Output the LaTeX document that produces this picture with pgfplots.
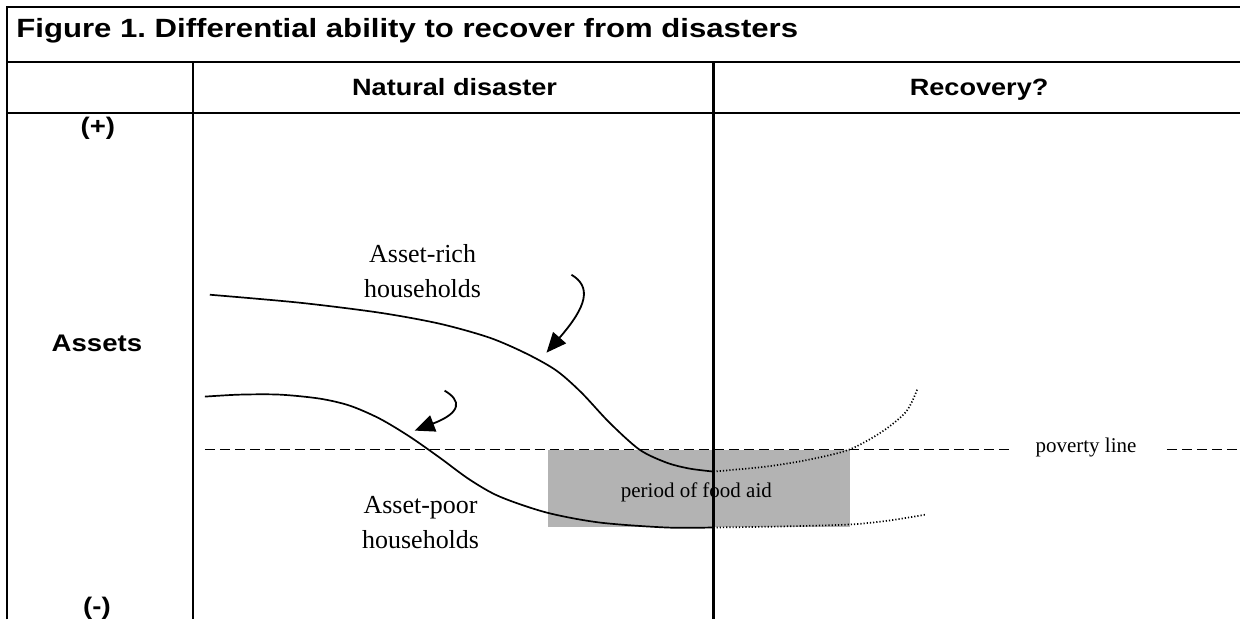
\documentclass[border=0pt]{standalone}
\usepackage{fontspec}
\setmainfont{Liberation Serif}
\setsansfont{Liberation Sans}
\newfontfamily\hdr[FakeStretch=1.15]{Liberation Sans}
\newfontfamily\ttl[FakeStretch=1.18]{Liberation Sans}
\usepackage{pgfplots}
\pgfplotsset{compat=1.18}
\usetikzlibrary{arrows.meta}
\definecolor{boxgray}{RGB}{179,179,179}
\frenchspacing
\begin{document}
\begin{tikzpicture}
\begin{axis}[
  scale only axis, width=620.5pt, height=310pt,
  xmin=0, xmax=1241, ymin=0, ymax=620, y dir=reverse,
  hide axis, clip=false,
]
\path (axis cs:0,0) rectangle (axis cs:1241,620);
% table frame
\draw[line width=1.15pt] (axis cs:7,620) -- (axis cs:7,7) -- (axis cs:1241,7);
\draw[line width=1.15pt] (axis cs:7,62) -- (axis cs:1241,62);
\draw[line width=1.15pt] (axis cs:7,113) -- (axis cs:1241,113);
\draw[line width=1.15pt] (axis cs:193,62) -- (axis cs:193,620);
% food aid box
\addplot[fill=boxgray, draw=none] coordinates {(548,450) (851,450) (851,527) (548,527)} -- cycle;
\draw[line width=1.15pt] (axis cs:714,62) -- (axis cs:714,620);
% poverty line
\addplot[black, line width=0.8pt, dash pattern=on 5pt off 2.5pt] coordinates {(205,450) (1013,450)};
\addplot[black, line width=0.8pt, dash pattern=on 5pt off 2.5pt] coordinates {(1168,450) (1241,450)};
% asset-rich curve
\addplot[black, line width=0.85pt, smooth] coordinates {
(210,295) (300,303) (380,313) (440,324) (490,338) (527,354) (557,371) (582,393)
(610,423) (640,450) (667,463) (690,469) (714,472)};
\addplot[black, line width=0.85pt, smooth, dash pattern=on 0.6pt off 1pt] coordinates {
(714,472) (767,467) (810,460) (850,450) (883,432) (907,412) (918,390)};
% asset-poor curve
\addplot[black, line width=0.85pt, smooth] coordinates {
(205,397) (240,395) (280,395) (320,399) (350,406) (380,419) (410,437) (440,458)
(470,480) (500,497) (547,513) (600,523) (667,528) (713,528)};
\addplot[black, line width=0.85pt, smooth, dash pattern=on 0.6pt off 1pt] coordinates {
(714,528) (780,527) (850,525) (890,521) (927,515)};
% arrows
\draw[line width=0.9pt, -{Triangle[length=10pt,width=8.5pt]}] (axis cs:572,275) .. controls (axis cs:592,287) and (axis cs:588,306) .. (axis cs:547,353);
\draw[line width=0.9pt, -{Triangle[length=10pt,width=8.5pt]}] (axis cs:445,391) .. controls (axis cs:462,401) and (axis cs:462,413) .. (axis cs:415,431);
% texts
\node[anchor=base west, font=\ttl\bfseries\fontsize{13.2}{15}\selectfont, inner sep=0] at (axis cs:16,38) {Figure 1. Differential ability to recover from disasters};
\node[anchor=base, font=\hdr\bfseries\fontsize{11.8}{14}\selectfont, inner sep=0] at (axis cs:455,96) {Natural disaster};
\node[anchor=base, font=\hdr\bfseries\fontsize{11.8}{14}\selectfont, inner sep=0] at (axis cs:980,96) {Recovery?};
\node[anchor=base, font=\hdr\bfseries\fontsize{12}{14}\selectfont, inner sep=0] at (axis cs:98,135) {(+)};
\node[anchor=base, font=\hdr\bfseries\fontsize{12}{14}\selectfont, inner sep=0] at (axis cs:97,352) {Assets};
\node[anchor=base, font=\hdr\bfseries\fontsize{12}{14}\selectfont, inner sep=0] at (axis cs:97,615) {(-)};
\node[anchor=base, font=\fontsize{13}{17.5}\selectfont, inner sep=0] at (axis cs:423,263) {Asset-rich};
\node[anchor=base, font=\fontsize{13}{17.5}\selectfont, inner sep=0] at (axis cs:423,298) {households};
\node[anchor=base, font=\fontsize{13}{17.5}\selectfont, inner sep=0] at (axis cs:421,514) {Asset-poor};
\node[anchor=base, font=\fontsize{13}{17.5}\selectfont, inner sep=0] at (axis cs:421,549) {households};
\node[anchor=base, font=\fontsize{10.5}{13}\selectfont, inner sep=0] at (axis cs:697,498) {period of food aid};
\node[anchor=base, font=\fontsize{10.5}{13}\selectfont, inner sep=0] at (axis cs:1087,453) {poverty line};
\end{axis}
\end{tikzpicture}
\end{document}
